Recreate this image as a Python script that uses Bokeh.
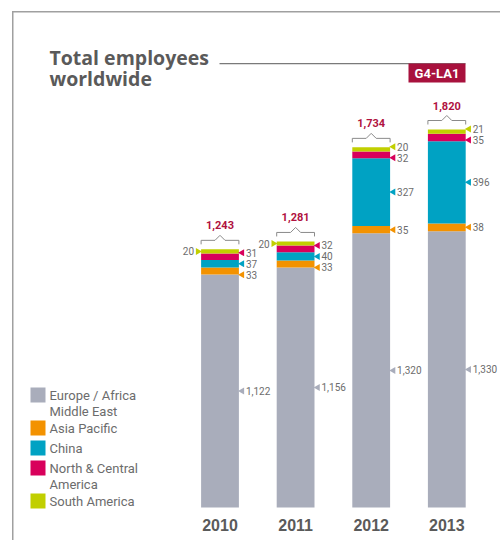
import math
import numpy as np
from bokeh.plotting import figure
from bokeh.models import Range1d, Label, BoxAnnotation, ColumnDataSource
from bokeh.core.properties import value
from bokeh.embed import file_html
from bokeh.resources import INLINE

# ---------------- data ----------------
years = ["2010", "2011", "2012", "2013"]
europe_africa_me = [1122, 1156, 1320, 1330]
asia_pacific = [33, 33, 35, 38]
china = [37, 40, 327, 396]
north_central_america = [31, 32, 32, 35]
south_america = [20, 20, 20, 21]
totals = [1243, 1281, 1734, 1820]

series_keys = ["europe", "asia", "china", "nca", "south"]
series_labels = [["Europe / Africa", "Middle East"], ["Asia Pacific"], ["China"],
                 ["North & Central", "America"], ["South America"]]
series_colors = ["#a9adbb", "#f39200", "#00a2c3", "#d8005b", "#c1cf00"]

title_lines = ["Total employees", "worldwide"]
badge_text = "G4-LA1"

# ---------------- layout ----------------
W, H = 500, 540
BASE_PX = 507      # px from top where value 0 sits
TOP_PX = 129       # px from top of tallest bar
X0_PX = 219.5      # centre of first bar
STEP_PX = 75.6     # distance between bars
u = max(totals) / (BASE_PX - TOP_PX)   # data units per pixel (y)
ux = 1.0 / STEP_PX                      # data units per pixel (x)

NARROW = "Roboto"
GRAY_TXT = "#6c6c6c"
CRIMSON = "#b0123f"

p = figure(width=W, height=H, output_backend="svg", toolbar_location=None,
           x_range=Range1d(-X0_PX * ux, (W - X0_PX) * ux),
           y_range=Range1d(-(H - BASE_PX) * u, BASE_PX * u),
           min_border=0, x_axis_type=None, y_axis_type=None,
           outline_line_color=None, background_fill_color="white",
           border_fill_color="white")

xs = list(range(len(years)))
src = ColumnDataSource(dict(x=xs, europe=europe_africa_me, asia=asia_pacific, china=china,
                            nca=north_central_america, south=south_america))
p.vbar_stack(series_keys, x="x", width=0.5, color=series_colors, line_width=0, source=src)

# ---------------- segment labels ----------------
def spread(centers, gap):
    order = sorted(range(len(centers)), key=lambda j: centers[j])
    clusters = []
    for j in order:
        clusters.append([j])
        while len(clusters) > 1:
            a, b = clusters[-2], clusters[-1]
            ma = np.mean([centers[q] for q in a])
            mb = np.mean([centers[q] for q in b])
            top_a = ma + (len(a) - 1) / 2 * gap
            bot_b = mb - (len(b) - 1) / 2 * gap
            if bot_b - top_a < gap:
                clusters[-2] = a + b
                clusters.pop()
            else:
                break
    out = [0.0] * len(centers)
    for cl in clusters:
        m = np.mean([centers[q] for q in cl])
        n = len(cl)
        for r, q in enumerate(cl):
            out[q] = m + (r - (n - 1) / 2) * gap
    return out

all_series = [europe_africa_me, asia_pacific, china, north_central_america, south_america]
rx, ry, rt, rc = [], [], [], []
lx, ly, lt, lc = [], [], [], []
for i in xs:
    vals = [s[i] for s in all_series]
    bottoms = np.cumsum([0] + vals[:-1])
    centers = [b + v / 2 for b, v in zip(bottoms, vals)]
    n_small = sum(v < 100 for v in vals[1:])
    right_idx = []
    for k in range(len(vals)):
        if k == len(vals) - 1 and n_small == 4:
            lx.append(i); ly.append(centers[k]); lt.append(str(vals[k])); lc.append(series_colors[k])
        else:
            right_idx.append(k)
    pos = spread([centers[k] for k in right_idx], 11 * u)
    for k, yv in zip(right_idx, pos):
        rx.append(i); ry.append(yv); rt.append(f"{vals[k]:,}"); rc.append(series_colors[k])

rx = np.array(rx, dtype=float)
lx = np.array(lx, dtype=float)
p.scatter(rx + 0.25 + 3.2 * ux, ry, marker="triangle", size=7, angle=math.pi / 2,
          color=rc, line_width=0)
p.text(rx + 0.25 + 7 * ux, ry, text=rt, text_font=value(NARROW), text_font_size="10px",
       text_color=GRAY_TXT, text_align="left", text_baseline="middle")
p.scatter(lx - 0.25 - 3.2 * ux, ly, marker="triangle", size=7, angle=-math.pi / 2,
          color=lc, line_width=0)
p.text(lx - 0.25 - 7 * ux, ly, text=lt, text_font=value(NARROW), text_font_size="10px",
       text_color=GRAY_TXT, text_align="right", text_baseline="middle")

# ---------------- totals and braces ----------------
bx, by = [], []
for i, t in zip(xs, totals):
    L, R = i - 0.25, i + 0.25
    yb, yh, yp = t + 5 * u, t + 9 * u, t + 14 * u
    dm = 5 * ux
    bx.append([L, L, i - dm, i, i + dm, R, R])
    by.append([yb, yh, yh, yp, yh, yh, yb])
p.multi_line(bx, by, line_color="#8a8a8a", line_width=1)
p.text(xs, [t + 24 * u for t in totals], text=[f"{t:,}" for t in totals],
       text_font=value(NARROW), text_font_size="11px", text_font_style="bold",
       text_color=CRIMSON, text_align="center", text_baseline="middle")

# ---------------- year labels ----------------
p.text(xs, [-17.5 * u] * len(xs), text=years, text_font=value("Liberation Sans"),
       text_font_size="16px", text_font_style="bold", text_color="#5a5a5a",
       text_align="center", text_baseline="middle")

# ---------------- frame, title, badge ----------------
def box(left, right, top, bottom, color):
    p.add_layout(BoxAnnotation(left=left, right=right, top=H - top, bottom=H - bottom,
                               left_units="screen", right_units="screen",
                               top_units="screen", bottom_units="screen",
                               fill_color=color, fill_alpha=1.0, line_color=None,
                               line_alpha=0))

box(11.5, 13, 10.5, H, "#a0a0a0")
box(11.5, W, 10.5, 12, "#a0a0a0")

for j, line in enumerate(title_lines):
    p.add_layout(Label(x=49, y=H - (57 + 21 * j), x_units="screen", y_units="screen",
                       text=line, text_font="Open Sans", text_font_size="19.5px",
                       text_font_style="bold", text_color="#5a5a5a",
                       text_baseline="middle", text_align="left"))
box(219, 465, 62.5, 63.7, "#7a7a7a")
box(408, 465, 63, 82, "#a8113d")
p.add_layout(Label(x=436.5, y=H - 72.5, x_units="screen", y_units="screen",
                   text=badge_text, text_font=NARROW, text_font_size="13px",
                   text_font_style="bold", text_color="white",
                   text_baseline="middle", text_align="center"))

# ---------------- legend ----------------
c = 394.5
for lines, col in zip(series_labels, series_colors):
    box(30, 45, c - 7.5, c + 7.5, col)
    for j, line in enumerate(lines):
        p.add_layout(Label(x=49, y=H - (c + 16 * j), x_units="screen", y_units="screen",
                           text=line, text_font=NARROW, text_font_size="13px",
                           text_color=GRAY_TXT, text_baseline="middle", text_align="left"))
    c += 20 + 13 * (len(lines) - 1)

open("out.html", "w").write(file_html(p, INLINE))
